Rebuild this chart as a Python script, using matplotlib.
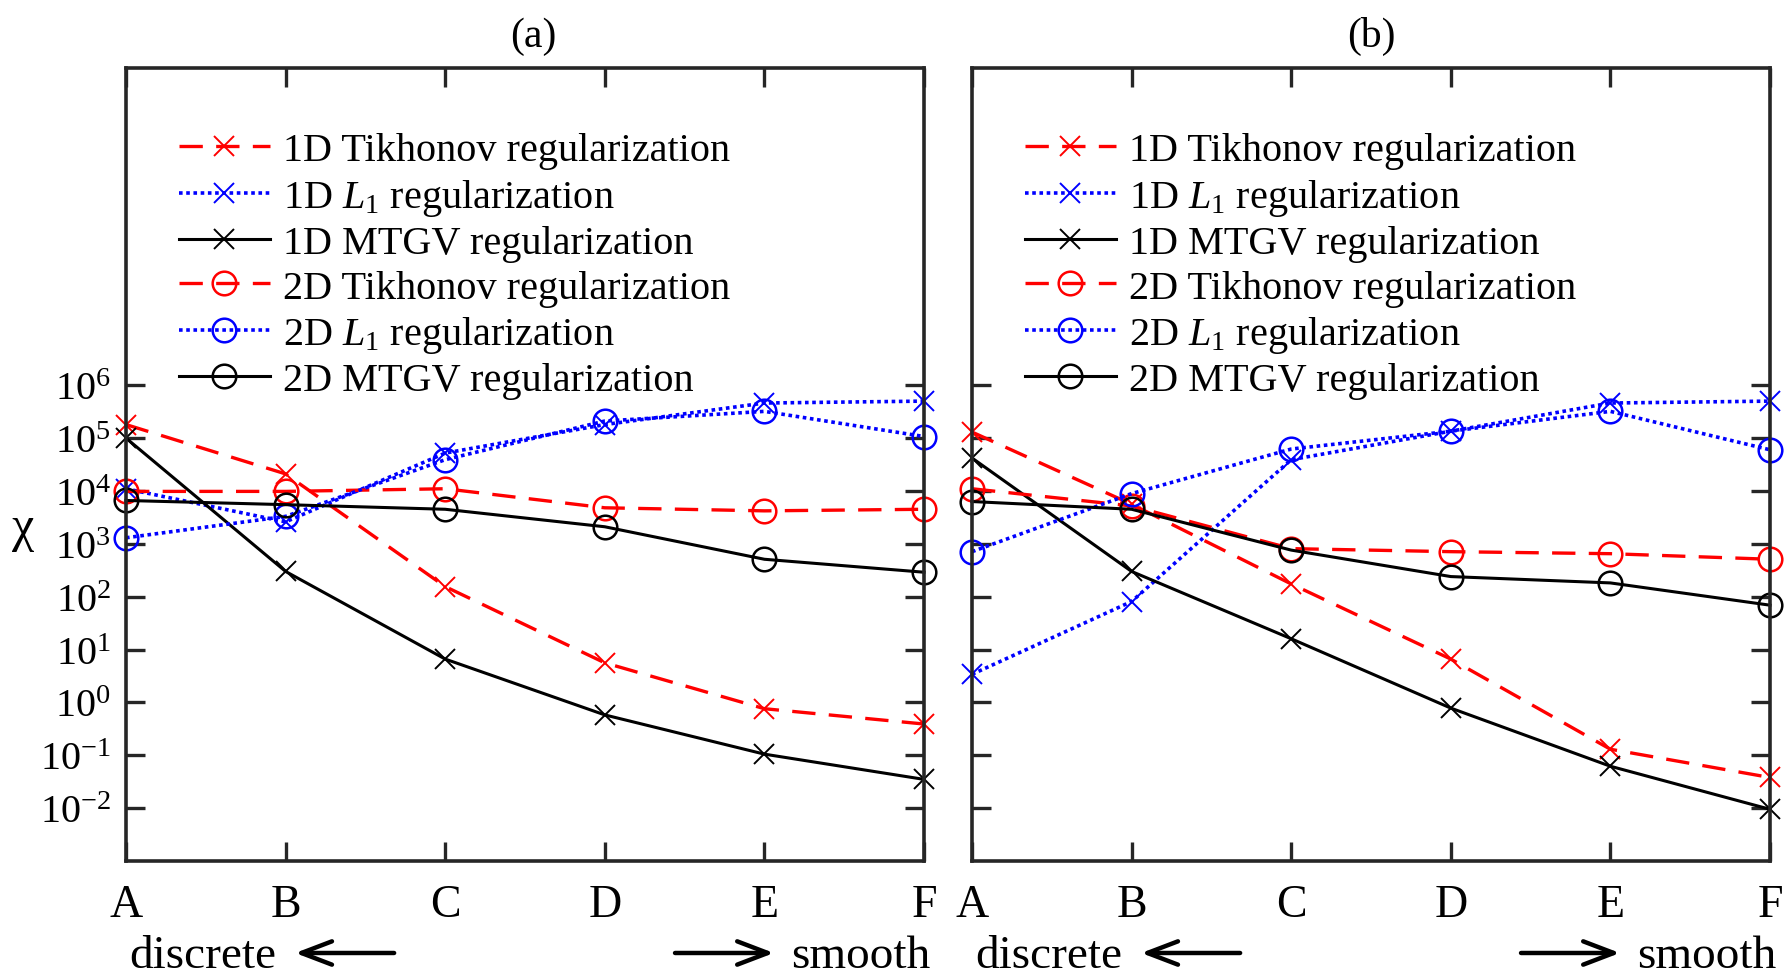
import matplotlib
matplotlib.use("Agg")
import matplotlib.pyplot as plt
from matplotlib.ticker import FixedLocator, NullLocator, LogFormatterMathtext

plt.rcParams['font.family'] = ['Liberation Serif', 'DejaVu Serif']
plt.rcParams['mathtext.fontset'] = 'custom'
plt.rcParams['mathtext.rm'] = 'Liberation Serif'
plt.rcParams['mathtext.it'] = 'Liberation Serif:italic'
plt.rcParams['axes.unicode_minus'] = False

# ---------------- data ----------------
categories = ['A', 'B', 'C', 'D', 'E', 'F']
titles = ['(a)', '(b)']
labels = ['1D Tikhonov regularization', '1D $L_1$ regularization',
          '1D MTGV regularization', '2D Tikhonov regularization',
          '2D $L_1$ regularization', '2D MTGV regularization']

# panel (a)
tikh1d_a = [1.8e5, 2.1e4, 155, 5.6, 0.76, 0.39]
l1_1d_a = [1.1e4, 2.6e3, 5.2e4, 1.8e5, 4.6e5, 5.0e5]
mtgv1d_a = [1.0e5, 300, 6.6, 0.58, 0.105, 0.035]
tikh2d_a = [9.8e3, 9.8e3, 1.1e4, 4.8e3, 4.2e3, 4.5e3]
l1_2d_a = [1.3e3, 3.3e3, 3.9e4, 2.1e5, 3.2e5, 1.07e5]
mtgv2d_a = [6.6e3, 5.5e3, 4.5e3, 2.1e3, 510, 290]

# panel (b)
tikh1d_b = [1.3e5, 5.6e3, 174, 6.6, 0.13, 0.038]
l1_1d_b = [3.4, 81, 3.9e4, 1.35e5, 4.6e5, 5.0e5]
mtgv1d_b = [4.2e4, 300, 16, 0.78, 0.062, 0.0095]
tikh2d_b = [1.1e4, 5.2e3, 810, 710, 650, 510]
l1_2d_b = [710, 8.9e3, 6.2e4, 1.35e5, 3.2e5, 6.0e4]
mtgv2d_b = [6.3e3, 4.5e3, 760, 240, 182, 69]

ytick_vals = [1e-2, 1e-1, 1e0, 1e1, 1e2, 1e3, 1e4, 1e5, 1e6]

panels = [
    [tikh1d_a, l1_1d_a, mtgv1d_a, tikh2d_a, l1_2d_a, mtgv2d_a],
    [tikh1d_b, l1_1d_b, mtgv1d_b, tikh2d_b, l1_2d_b, mtgv2d_b],
]

# ---------------- styles ----------------
dash = (0, (7, 4))
dot = (0, (1, 1.0))
styles = [
    dict(color='#ff0000', ls=dash, lw=2.4, marker='x', ms=15, mew=1.4),
    dict(color='#0000ff', ls=dot, lw=2.6, marker='x', ms=15, mew=1.4),
    dict(color='#000000', ls='-', lw=2.2, marker='x', ms=15, mew=1.4),
    dict(color='#ff0000', ls=dash, lw=2.4, marker='o', ms=17, mew=1.8),
    dict(color='#0000ff', ls=dot, lw=2.6, marker='o', ms=17, mew=1.8),
    dict(color='#000000', ls='-', lw=2.2, marker='o', ms=17, mew=1.8),
]

W, H = 1786, 978
fig = plt.figure(figsize=(W / 100, H / 100), dpi=100)
spine_c = '#262626'
ax_h = (862 - 69) / H
ax_b = 1 - 862 / H
ax_w = 798 / W
lefts = [126 / W, 972 / W]
title_x = [0.51, 0.5]

x = list(range(len(categories)))
for p in range(2):
    ax = fig.add_axes([lefts[p], ax_b, ax_w, ax_h])
    for series, lab, st in zip(panels[p], labels, styles):
        ax.plot(x, series, label=lab, color=st['color'], linestyle=st['ls'],
                linewidth=st['lw'], marker=st['marker'], markersize=st['ms'],
                markeredgewidth=st['mew'], markerfacecolor='none',
                clip_on=False)
    ax.set_yscale('log')
    ax.set_xlim(0, len(categories) - 1)
    ax.set_ylim(1e-3, 1e12)
    ax.xaxis.set_major_locator(FixedLocator(x))
    ax.set_xticklabels(categories, fontsize=33)
    ax.yaxis.set_major_locator(FixedLocator(ytick_vals))
    ax.yaxis.set_minor_locator(NullLocator())
    if p == 0:
        ax.yaxis.set_major_formatter(LogFormatterMathtext())
    else:
        ax.set_yticklabels([])
    ax.tick_params(axis='both', which='major', direction='in', length=14,
                   width=2.4, color=spine_c, top=True, right=True,
                   labelsize=29)
    ax.tick_params(axis='x', pad=16, labelsize=33)
    ax.tick_params(axis='y', pad=11)
    for s in ax.spines.values():
        s.set_linewidth(2.6)
        s.set_color(spine_c)
    ax.set_title(titles[p], fontsize=30, pad=16, x=title_x[p])

    ax.legend(loc='upper left', bbox_to_anchor=(0.066, 0.919), frameon=False,
              fontsize=29, handlelength=2.26, handletextpad=0.32,
              labelspacing=0.18, borderpad=0, borderaxespad=0)

    # bottom annotations
    ytxt = -0.12
    ax.text(0.004, ytxt, 'discrete', transform=ax.transAxes, fontsize=34,
            ha='left', va='center')
    aprops = dict(arrowstyle='->,head_length=1.1,head_width=0.42',
                  mutation_scale=20, lw=3.2, color='black',
                  shrinkA=0, shrinkB=0)
    ax.annotate('', xy=(0.212, ytxt + 0.004), xytext=(0.336, ytxt + 0.004),
                xycoords='axes fraction', arrowprops=aprops,
                annotation_clip=False)
    ax.annotate('', xy=(0.812, ytxt + 0.004), xytext=(0.688, ytxt + 0.004),
                xycoords='axes fraction', arrowprops=aprops,
                annotation_clip=False)
    ax.text(0.834, ytxt, 'smooth', transform=ax.transAxes, fontsize=34,
            ha='left', va='center')

    if p == 0:
        ax.text(-0.129, 0.42, 'χ', transform=ax.transAxes, fontsize=36,
                ha='center', va='center')

fig.savefig('out.png', dpi=100)
